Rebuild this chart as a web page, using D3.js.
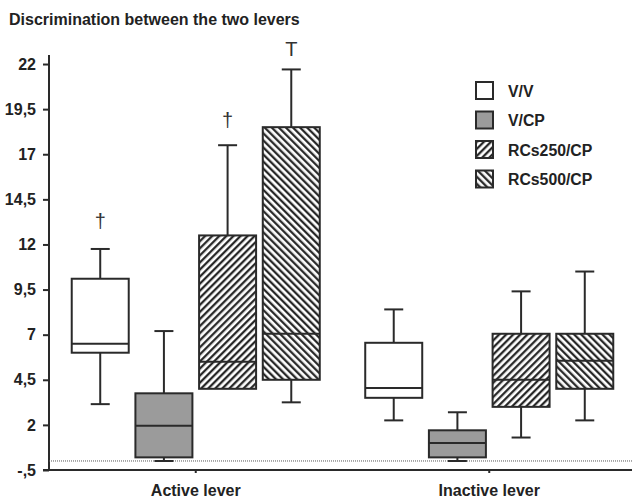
<!DOCTYPE html>
<html>
<head>
<meta charset="utf-8">
<script src="https://cdn.jsdelivr.net/npm/d3@7"></script>
<style>
  html, body { margin: 0; padding: 0; background: #fff; }
  svg { display: block; }
  text { font-family: Arial, "Liberation Sans", sans-serif; }
</style>
</head>
<body>
<svg id="chart" width="632" height="498"></svg>
<script>
// ---------- data ----------
const title = "Discrimination between the two levers";
const groups = ["Active lever", "Inactive lever"];
const series = ["V/V", "V/CP", "RCs250/CP", "RCs500/CP"];
const tickValues = [-0.5, 2, 4.5, 7, 9.5, 12, 14.5, 17, 19.5, 22];
const tickLabels = ["-,5", "2", "4,5", "7", "9,5", "12", "14,5", "17", "19,5", "22"];
// five-number summaries [min, q1, median, q3, max], one per series, per group
const activeStats = [
  [3.15, 6.0, 6.5, 10.1, 11.75],
  [0.0, 0.2, 1.95, 3.75, 7.2],
  [4.0, 4.0, 5.5, 12.5, 17.5],
  [3.25, 4.5, 7.05, 18.5, 21.7]
];
const inactiveStats = [
  [2.25, 3.5, 4.05, 6.55, 8.4],
  [0.0, 0.2, 1.0, 1.7, 2.7],
  [1.3, 3.0, 4.5, 7.05, 9.4],
  [2.25, 4.0, 5.55, 7.05, 10.5]
];
// significance markers: [group, series, symbol, value position]
const markers = [
  ["Active lever", "V/V", "†", 12.9],
  ["Active lever", "RCs250/CP", "†", 18.5],
  ["Active lever", "RCs500/CP", "T", 22.45]
];

// ---------- setup ----------
const svg = d3.select("#chart");
const W = 632, H = 498;
const axisX = 49, axisY = 470;

const y = d3.scaleLinear().domain([-0.5, 22.5]).range([axisY, 55]);
const x0 = d3.scaleBand().domain(groups).range([axisX, 636]).paddingInner(0);
const x1 = d3.scaleBand().domain(series).range([0, x0.bandwidth()])
  .paddingInner(0.105).paddingOuter(0.357);

// patterns
const defs = svg.append("defs");
function hatch(id, angle) {
  const p = defs.append("pattern").attr("id", id)
    .attr("patternUnits", "userSpaceOnUse").attr("width", 5).attr("height", 5)
    .attr("patternTransform", `rotate(${angle})`);
  p.append("rect").attr("width", 5).attr("height", 5).attr("fill", "#fff");
  p.append("line").attr("x1", 1.2).attr("y1", 0).attr("x2", 1.2).attr("y2", 5)
    .attr("stroke", "#1e1e1e").attr("stroke-width", 2.2);
}
hatch("hatchR", 45);
hatch("hatchL", -45);

const fills = d3.scaleOrdinal().domain(series)
  .range(["#ffffff", "#9b9b9b", "url(#hatchR)", "url(#hatchL)"]);

const stroke = "#2a2a2a";

// title
svg.append("text").attr("x", 9).attr("y", 25)
  .attr("font-size", 16).attr("font-weight", "bold").attr("fill", "#222")
  .text(title);

// y axis
const yAxis = d3.axisLeft(y).tickValues(tickValues)
  .tickFormat((d, i) => tickLabels[i]).tickSize(6).tickPadding(7);
const gy = svg.append("g").attr("transform", `translate(${axisX},0)`).call(yAxis);
gy.select(".domain").attr("stroke", stroke).attr("stroke-width", 2).attr("d", `M-6,${y(-0.5)}H0V55`);
gy.selectAll(".tick line").attr("stroke", stroke).attr("stroke-width", 2);
gy.selectAll(".tick text").attr("font-size", 16).attr("font-weight", "bold")
  .attr("fill", "#222").attr("font-family", "Arial, 'Liberation Sans', sans-serif");

// dotted zero line
svg.append("line").attr("x1", axisX).attr("x2", W).attr("y1", y(0)).attr("y2", y(0))
  .attr("stroke", "#555").attr("stroke-width", 1).attr("stroke-dasharray", "1,1");

// x axis
const xAxis = d3.axisBottom(x0).tickSize(3).tickPadding(12);
const gx = svg.append("g").attr("transform", `translate(0,${axisY})`).call(xAxis);
gx.select(".domain").attr("stroke", stroke).attr("stroke-width", 2).attr("d", `M${axisX},0H${W}`);
gx.selectAll(".tick line").attr("stroke", stroke).attr("stroke-width", 2);
gx.selectAll(".tick text").attr("font-size", 16).attr("font-weight", "bold")
  .attr("fill", "#222").attr("font-family", "Arial, 'Liberation Sans', sans-serif");

// boxes
const statsByGroup = { "Active lever": activeStats, "Inactive lever": inactiveStats };
const boxData = [];
groups.forEach(g => series.forEach((s, i) => {
  const [mn, q1, md, q3, mx] = statsByGroup[g][i];
  boxData.push({ g, s, mn, q1, md, q3, mx });
}));

const bw = x1.bandwidth();
const capW = 19;
const boxes = svg.append("g").selectAll("g").data(boxData).join("g")
  .attr("transform", d => `translate(${x0(d.g) + x1(d.s)},0)`);

// whiskers
boxes.append("line").attr("x1", bw / 2).attr("x2", bw / 2)
  .attr("y1", d => y(d.mx)).attr("y2", d => y(d.q3))
  .attr("stroke", stroke).attr("stroke-width", 2);
boxes.append("line").attr("x1", bw / 2).attr("x2", bw / 2)
  .attr("y1", d => y(d.q1)).attr("y2", d => y(d.mn))
  .attr("stroke", stroke).attr("stroke-width", 2);
boxes.append("line").attr("x1", bw / 2 - capW / 2).attr("x2", bw / 2 + capW / 2)
  .attr("y1", d => y(d.mx)).attr("y2", d => y(d.mx))
  .attr("stroke", stroke).attr("stroke-width", 2);
boxes.filter(d => d.mn < d.q1).append("line").attr("x1", bw / 2 - capW / 2).attr("x2", bw / 2 + capW / 2)
  .attr("y1", d => y(d.mn)).attr("y2", d => y(d.mn))
  .attr("stroke", stroke).attr("stroke-width", 2);
// box
boxes.append("rect").attr("x", 0).attr("width", bw)
  .attr("y", d => y(d.q3)).attr("height", d => y(d.q1) - y(d.q3))
  .attr("fill", d => fills(d.s)).attr("stroke", stroke).attr("stroke-width", 2);
// median
boxes.append("line").attr("x1", 0).attr("x2", bw)
  .attr("y1", d => y(d.md)).attr("y2", d => y(d.md))
  .attr("stroke", stroke).attr("stroke-width", 2);

// markers
svg.append("g").selectAll("text").data(markers).join("text")
  .attr("x", d => x0(d[0]) + x1(d[1]) + bw / 2)
  .attr("y", d => y(d[3]))
  .attr("text-anchor", "middle")
  .attr("font-family", "'Liberation Serif', 'DejaVu Serif', serif")
  .attr("font-size", 20)
  .attr("fill", "#333")
  .text(d => d[2]);

// legend
const legend = svg.append("g").selectAll("g").data(series).join("g")
  .attr("transform", (d, i) => `translate(476,${82 + i * 29.5})`);
legend.append("rect").attr("width", 17).attr("height", 17)
  .attr("fill", d => fills(d)).attr("stroke", stroke).attr("stroke-width", 2);
legend.append("text").attr("x", 32).attr("y", 14.5)
  .attr("font-size", 15.8).attr("font-weight", "bold").attr("fill", "#222")
  .text(d => d);
</script>
</body>
</html>
